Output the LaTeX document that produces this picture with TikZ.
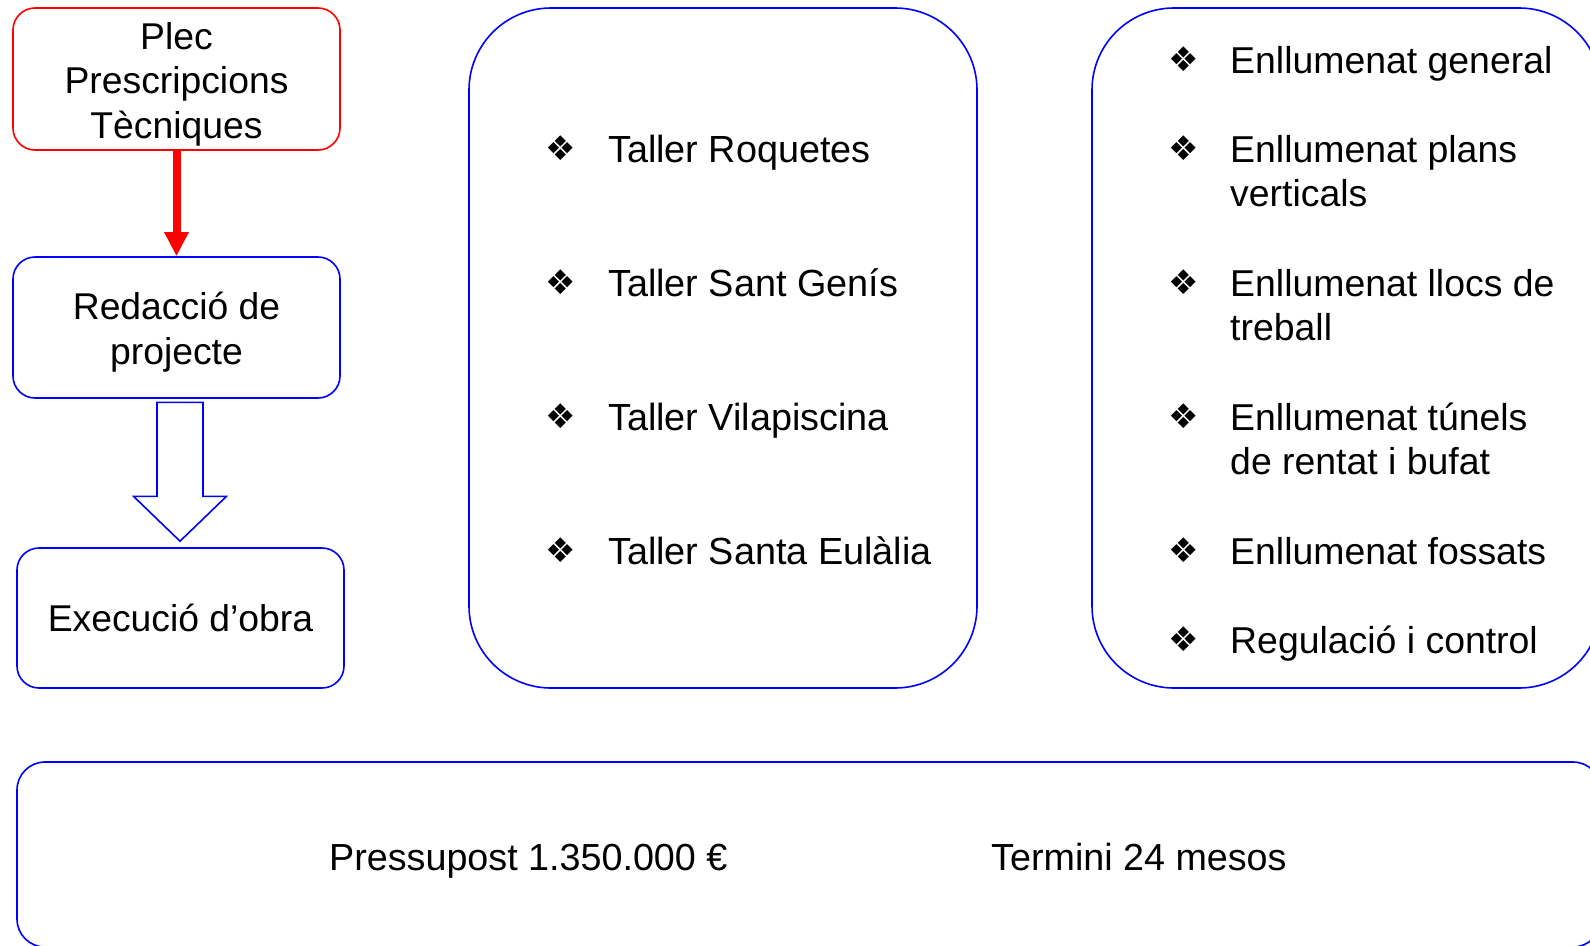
\documentclass[tikz,border=0pt]{standalone}
\usepackage{fontspec}
\setmainfont{Liberation Sans}
\newfontfamily\dejavu{DejaVu Sans}
\usetikzlibrary{calc,arrows.meta}
\newcommand\mystrut{\rule[-9pt]{0pt}{44.5pt}}
\begin{document}
\begin{tikzpicture}[x=1pt,y=-1pt,
  box/.style={draw=blue, line width=1.6pt, rounded corners=22pt, minimum width=327pt, inner sep=0pt},
  bigbox/.style={draw=blue, line width=1.6pt, rounded corners=82pt, inner sep=0pt},
  txt/.style={font=\fontsize{37.3}{44.5}\selectfont, align=center, inner sep=0pt},
  item/.style={anchor=base west, inner sep=0pt, font=\fontsize{37.8}{44}\selectfont},
  bul/.style={inner sep=0pt, font=\dejavu\fontsize{34}{34}\selectfont}]
\clip (0,0) rectangle (1590,945);
\fill[white] (0,0) rectangle (1590,945);

% left column
\node[box, draw=red, minimum height=142pt] (b1) at (176.5,79) {};
\node[txt] (t1) at ($(b1)+(0,1.5)$) {\mystrut Plec\\\mystrut Prescripcions\\\mystrut Tècniques};
\node[box, minimum height=141pt] (b2) at (176.5,327.5) {};
\node[txt] (t2) at ($(b2)+(0,1)$) {\mystrut Redacció de\\\mystrut projecte};
\node[box, minimum height=140pt] (b3) at (180.5,618) {};
\node[txt] (t3) at (b3) {\mystrut Execució d’obra};

\draw[red, line width=8pt, -{Triangle[width=23pt,length=24pt]}] (b1.south) -- (b2.north);

\coordinate (bt) at ($(b2.south)+(3.5,3.5)$);
\coordinate (bh) at ($(b3.north)+(-0.5,-6)$);
\draw[blue, line width=1.6pt, line join=miter]
  ($(bt)+(-23,0)$) -- ($(bt)+(23,0)$) -- ($(bt)+(23,94)$) -- ($(bt)+(46.5,94)$)
  -- (bh) -- ($(bt)+(-46.5,94)$) -- ($(bt)+(-23,94)$) -- cycle;

% middle box
\node[bigbox, minimum width=508pt, minimum height=680pt] (mid) at (723,348) {};
\foreach \n/\y/\t in {1/162/Taller Roquetes, 2/296/Taller Sant Genís, 3/430/Taller Vilapiscina, 4/564/Taller Santa Eulàlia}{
  \node[bul] (mb\n) at (561,\y-14) {❖};
  \node[item] (mi\n) at (608,\y) {\t};
}

% right box
\node[bigbox, minimum width=509pt, minimum height=680pt] (rgt) at (1346.5,348) {};
\foreach \n/\y/\t in {1/73/{Enllumenat general}, 2/162/{Enllumenat plans\\verticals}, 3/296/{Enllumenat llocs de\\treball}, 4/430/{Enllumenat túnels\\de rentat i bufat}, 5/564/{Enllumenat fossats}, 6/653/{Regulació i control}}{
  \node[bul] (rb\n) at (1184,\y-14) {❖};
  \node[item] (ri\n) at (1230,\y) {\parbox[t]{360pt}{\raggedright\fontsize{37.4}{44}\selectfont \t}};
}

% bottom box
\node[bigbox, rounded corners=28pt, minimum width=1584pt, minimum height=185pt] (bot) at (809,854.5) {};
\node[item, font=\fontsize{37.7}{44}\selectfont] (pr) at (329,870) {Pressupost 1.350.000 €};
\node[item, font=\fontsize{37.7}{44}\selectfont] (te) at (991,870) {Termini 24 mesos};
\end{tikzpicture}
\end{document}
